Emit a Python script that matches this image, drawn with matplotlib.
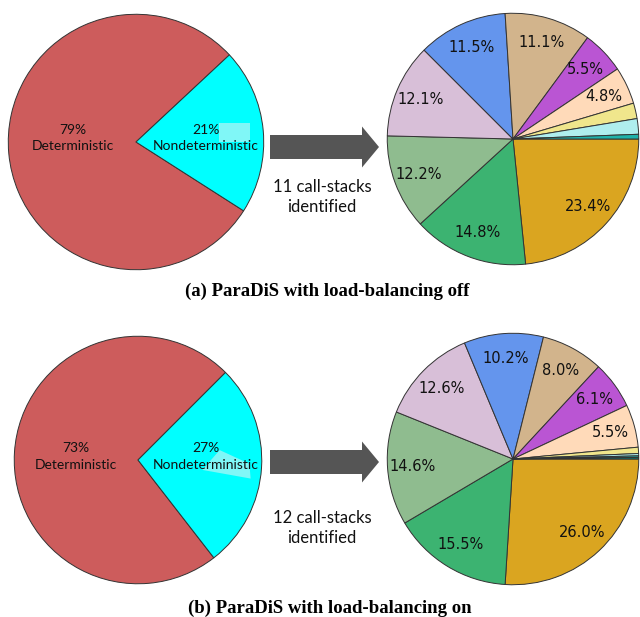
import matplotlib
matplotlib.use('Agg')
import matplotlib.pyplot as plt
import numpy as np
from matplotlib.patches import FancyArrow, Polygon

# left pies: deterministic vs nondeterministic share
split_names = ['Deterministic', 'Nondeterministic']
split_a = [79, 21]
split_b = [73, 27]
split_colors = ['indianred', 'cyan']

# right pies: share of each call-stack (largest first, clockwise)
stacks_a = [23.4, 14.8, 12.2, 12.1, 11.5, 11.1, 5.5, 4.8, 2.0, 2.0, 0.6]
stacks_b = [26.0, 15.5, 14.6, 12.6, 10.2, 8.0, 6.1, 5.5, 0.8, 0.3, 0.2, 0.2]
stack_colors = ['goldenrod', 'mediumseagreen', 'darkseagreen', 'thistle',
                'cornflowerblue', 'tan', 'mediumorchid', 'peachpuff',
                'khaki', 'paleturquoise', 'lightseagreen', 'teal']

arrow_texts = ['11 call-stacks\nidentified', '12 call-stacks\nidentified']
captions = ['(a) ParaDiS with load-balancing off',
            '(b) ParaDiS with load-balancing on']

W, H = 640, 617
fig = plt.figure(figsize=(W / 100, H / 100), dpi=100)

# overlay in pixel units for arrows and captions
over = fig.add_axes([0, 0, 1, 1])
over.set_xlim(0, W)
over.set_ylim(H, 0)
over.axis('off')


def pie_axes(cx, cy, r):
    ax = fig.add_axes([(cx - r) / W, 1 - (cy + r) / H, 2 * r / W, 2 * r / H])
    return ax


def left_pie(ax, vals, start, hl):
    wedges, _ = ax.pie(vals, colors=split_colors, startangle=start,
                       wedgeprops=dict(edgecolor='#333333', linewidth=0.7))
    ax.add_patch(Polygon(hl, closed=True, facecolor='#80f7f7',
                         edgecolor='none', zorder=2))
    for w, name, v, d in zip(wedges, split_names, vals, [0.5, 0.55]):
        ang = np.deg2rad((w.theta1 + w.theta2) / 2)
        ax.text(d * np.cos(ang), 0.03, f'{v}%\n{name}',
                ha='center', va='center', fontsize=10, family='Lato',
                linespacing=1.45, zorder=3, color='#111111')
    ax.set_xlim(-1.01, 1.01)
    ax.set_ylim(-1.01, 1.01)


def right_pie(ax, vals):
    ax.pie(vals, colors=stack_colors[:len(vals)], startangle=0,
           counterclock=False, pctdistance=0.8,
           autopct=lambda p: f'{p:.1f}%' if p >= 4 else '',
           textprops=dict(fontsize=10.5, color='#111111'),
           wedgeprops=dict(edgecolor='#333333', linewidth=0.7))
    ax.set_xlim(-1.01, 1.01)
    ax.set_ylim(-1.01, 1.01)


# row (a)
ax1 = pie_axes(136, 142, 129)
left_pie(ax1, split_a, 43,
         [(0.65, 0.0), (0.89, 0.0), (0.89, 0.15), (0.65, 0.15)])
ax2 = pie_axes(513, 139, 127)
right_pie(ax2, stacks_a)

# row (b)
ax3 = pie_axes(138, 460, 125)
left_pie(ax3, split_b, 45,
         [(0.66, 0.08), (0.9, -0.03), (0.91, -0.15), (0.52, -0.08)])
ax4 = pie_axes(513, 459, 127)
right_pie(ax4, stacks_b)

for y, txt, ty in [(147, arrow_texts[0], 197), (462, arrow_texts[1], 528)]:
    over.add_patch(FancyArrow(270, y, 92, 0, width=24, head_width=41,
                              head_length=17, length_includes_head=False,
                              color='#555555', linewidth=0))
    over.text(322, ty, txt, ha='center', va='center', fontsize=12,
              family='Lato', linespacing=1.35, color='#111111')

over.text(327, 291, captions[0], ha='center', va='center', fontsize=13.5,
          family='Liberation Serif', fontweight='bold')
over.text(330, 608, captions[1], ha='center', va='center', fontsize=13.5,
          family='Liberation Serif', fontweight='bold')

fig.savefig('out.png', dpi=100)
